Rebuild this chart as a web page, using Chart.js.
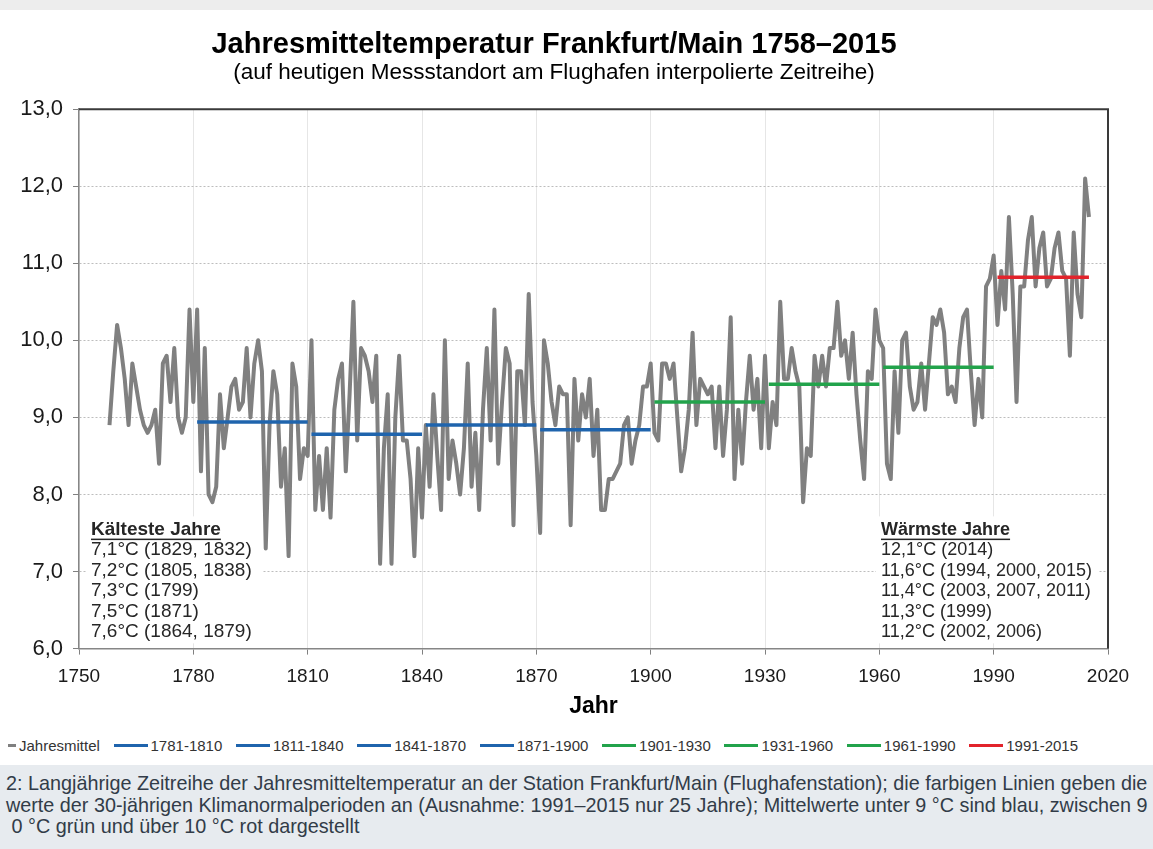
<!DOCTYPE html>
<html lang="de">
<head>
<meta charset="utf-8">
<title>Jahresmitteltemperatur Frankfurt/Main 1758–2015</title>
<script src="https://cdn.jsdelivr.net/npm/chart.js"></script>
<style>
  html, body { margin: 0; padding: 0; background: #fff; }
  body { width: 1153px; height: 849px; position: relative; overflow: hidden;
         font-family: 'Liberation Sans', Arial, sans-serif; }
  #topBand { position: absolute; left: 0; top: 0; width: 1153px; height: 10px; background: #ededed; }
  #chartBox { position: absolute; left: 0; top: 10px; width: 1153px; height: 720px; }
  #legend { position: absolute; left: 8px; top: 736px; width: 1070px; height: 18px;
            display: flex; justify-content: space-between; align-items: center;
            font-size: 15px; color: #333; white-space: nowrap; }
  #legend .item { display: flex; align-items: center; }
  #legend .mark { display: inline-block; height: 3px; margin-right: 3px; }
  #caption { position: absolute; left: 0; top: 765px; width: 1153px; height: 84px;
             box-sizing: border-box; padding: 8px 0 0 6px; background: #e7ebef;
             color: #323c48; font-size: 19.8px; line-height: 21.5px; white-space: nowrap; }
</style>
</head>
<body>
<div id="topBand"></div>
<div id="chartBox"><canvas id="tempChart"></canvas></div>
<div id="legend"></div>
<div id="caption">
  2: Langjährige Zeitreihe der Jahresmitteltemperatur an der Station Frankfurt/Main (Flughafenstation); die farbigen Linien geben die<br>
  werte der 30-jährigen Klimanormalperioden an (Ausnahme: 1991–2015 nur 25 Jahre); Mittelwerte unter 9 °C sind blau, zwischen 9<br>
  &nbsp;0 °C grün und über 10 °C rot dargestellt
</div>
<script>
const FONT = "'Liberation Sans', Arial, sans-serif";

// annual means, one value per year starting in 1758
const startYear = 1758;
const jahresmittel = [
  8.9, 9.6, 10.2, 9.9, 9.5, 8.9, 9.7, 9.4, 9.1, 8.9, 8.8, 8.9,            // 1758-1769
  9.1, 8.4, 9.7, 9.8, 9.2, 9.9, 9.0, 8.8, 9.0, 10.4,                      // 1770-1779
  9.2, 10.4, 8.3, 9.9, 8.0, 7.9, 8.1, 9.3, 8.6, 9.0,                      // 1780-1789
  9.4, 9.5, 9.1, 9.2, 9.9, 9.0, 9.7, 10.0, 9.6, 7.3,                      // 1790-1799
  8.9, 9.6, 9.3, 8.1, 8.6, 7.2, 9.7, 9.4, 8.2, 8.6,                       // 1800-1809
  8.5, 10.0, 7.8, 8.5, 7.8, 8.6, 7.7, 9.1, 9.5, 9.7,                      // 1810-1819
  8.3, 9.3, 10.5, 8.7, 9.9, 9.8, 9.6, 9.2, 9.8, 7.1,                      // 1820-1829
  8.6, 9.3, 7.1, 9.0, 9.8, 8.7, 8.7, 8.2, 7.2, 8.6,                       // 1830-1839
  7.7, 8.9, 8.1, 9.3, 8.5, 7.8, 10.0, 8.2, 8.7, 8.4,                      // 1840-1849
  8.0, 8.6, 9.7, 8.1, 8.8, 7.8, 9.1, 9.9, 8.7, 10.4,                      // 1850-1859
  8.4, 9.2, 9.9, 9.7, 7.6, 9.6, 9.6, 8.9, 10.6, 9.2,                      // 1860-1869
  8.5, 7.5, 10.0, 9.7, 9.2, 8.9, 9.4, 9.3, 9.3, 7.6,                      // 1870-1879
  9.5, 8.7, 9.3, 9.0, 9.5, 8.5, 9.1, 7.8, 7.8, 8.2,                       // 1880-1889
  8.2, 8.3, 8.4, 8.9, 9.0, 8.4, 8.7, 8.9, 9.4, 9.4,                       // 1890-1899
  9.7, 8.8, 8.7, 9.7, 9.7, 9.5, 9.7, 9.0, 8.3, 8.6,                       // 1900-1909
  9.1, 10.1, 8.9, 9.5, 9.4, 9.3, 9.4, 8.6, 9.4, 8.5,                      // 1910-1919
  9.1, 10.3, 8.2, 9.1, 8.4, 9.2, 9.8, 9.1, 9.5, 8.6,                      // 1920-1929
  9.8, 8.6, 9.2, 8.9, 10.5, 9.5, 9.5, 9.9, 9.6, 9.4,                      // 1930-1939
  7.9, 8.6, 8.5, 9.8, 9.4, 9.8, 9.4, 9.9, 9.9, 10.5,                      // 1940-1949
  9.8, 10.0, 9.5, 10.1, 9.3, 8.7, 8.2, 9.6, 9.5, 10.4,                    // 1950-1959
  10.0, 9.9, 8.4, 8.2, 9.6, 8.8, 10.0, 10.1, 9.4, 9.1,                    // 1960-1969
  9.2, 9.7, 9.1, 9.7, 10.3, 10.2, 10.4, 10.1, 9.3, 9.4,                   // 1970-1979
  9.2, 9.9, 10.3, 10.4, 9.6, 8.9, 9.5, 9.0, 10.7, 10.8,                   // 1980-1989
  11.1, 10.2, 10.9, 10.4, 11.6, 10.6, 9.2, 10.7, 10.7, 11.3,              // 1990-1999
  11.6, 10.7, 11.2, 11.4, 10.7, 10.8, 11.2, 11.4, 10.9, 10.8,             // 2000-2009
  9.8, 11.4, 10.6, 10.3, 12.1, 11.6                                       // 2010-2015
];

// 30-year normal periods
const periodLabels = ['1781-1810', '1811-1840', '1841-1870', '1871-1900',
                      '1901-1930', '1931-1960', '1961-1990', '1991-2015'];
const periodStart = [1781, 1811, 1841, 1871, 1901, 1931, 1961, 1991];
const periodEnd   = [1810, 1840, 1870, 1900, 1930, 1960, 1990, 2015];
const periodMean  = [8.94, 8.78, 8.90, 8.84, 9.20, 9.43, 9.65, 10.82];
const periodColor = ['#1f64ad', '#1f64ad', '#1f64ad', '#1f64ad',
                     '#22a34b', '#22a34b', '#22a34b', '#e2232b'];

const coldestYears = ['7,1°C (1829, 1832)', '7,2°C (1805, 1838)', '7,3°C (1799)',
                      '7,5°C (1871)', '7,6°C (1864, 1879)'];
const warmestYears = ['12,1°C (2014)', '11,6°C (1994, 2000, 2015)', '11,4°C (2003, 2007, 2011)',
                      '11,3°C (1999)', '11,2°C (2002, 2006)'];

const datasets = [{
  label: 'Jahresmittel',
  data: jahresmittel.map((v, i) => ({ x: startYear + i, y: v })),
  borderColor: '#808080',
  backgroundColor: '#808080',
  borderWidth: 4,
  borderJoinStyle: 'round',
  pointRadius: 0,
  order: 2
}];
periodLabels.forEach((label, i) => {
  datasets.push({
    label: label,
    data: [{ x: periodStart[i], y: periodMean[i] }, { x: periodEnd[i], y: periodMean[i] }],
    borderColor: periodColor[i],
    backgroundColor: periodColor[i],
    borderWidth: 3.5,
    pointRadius: 0,
    order: 1
  });
});

// text boxes in the lower corners of the plot
function drawNote(chart, heading, lines, offsetX, boxW, size) {
  const { ctx, chartArea } = chart;
  const lh = 20.5;
  const x = chartArea.left + offsetX;
  const hy = chartArea.bottom - 119;
  ctx.save();
  ctx.fillStyle = '#fff';
  ctx.fillRect(x - 5, hy - lh / 2 - 3, boxW, lh * 6 + 4);
  ctx.fillStyle = '#262626';
  ctx.textAlign = 'left';
  ctx.textBaseline = 'middle';
  ctx.font = 'bold ' + size + 'px ' + FONT;
  ctx.fillText(heading, x, hy);
  ctx.fillRect(x, hy + 9, ctx.measureText(heading).width, 1.5);
  ctx.font = size + 'px ' + FONT;
  lines.forEach((t, i) => ctx.fillText(t, x, hy + lh * (i + 1)));
  ctx.restore();
}

const plotDecor = {
  id: 'plotDecor',
  beforeDatasetsDraw(chart) {
    const { ctx, chartArea } = chart;
    ctx.save();
    ctx.strokeStyle = '#3a3a3a';
    ctx.lineWidth = 2;
    ctx.beginPath();
    ctx.moveTo(chartArea.left, chartArea.top);
    ctx.lineTo(chartArea.right, chartArea.top);
    ctx.lineTo(chartArea.right, chartArea.bottom);
    ctx.stroke();
    ctx.restore();
    drawNote(chart, 'Kälteste Jahre', coldestYears, 12, 176, 19);
    drawNote(chart, 'Wärmste Jahre', warmestYears, 802, 222, 18);
  }
};

// legend as html, built from the datasets
const htmlLegend = {
  id: 'htmlLegend',
  afterUpdate(chart) {
    const box = document.getElementById('legend');
    box.innerHTML = '';
    chart.data.datasets.forEach((ds, i) => {
      const item = document.createElement('span');
      item.className = 'item';
      const mark = document.createElement('span');
      mark.className = 'mark';
      mark.style.width = (i === 0 ? 8 : 34) + 'px';
      mark.style.background = ds.borderColor;
      item.appendChild(mark);
      item.appendChild(document.createTextNode(ds.label));
      box.appendChild(item);
    });
  }
};

new Chart(document.getElementById('tempChart'), {
  type: 'line',
  data: { datasets: datasets },
  plugins: [plotDecor, htmlLegend],
  options: {
    responsive: true,
    maintainAspectRatio: false,
    animation: false,
    layout: { padding: { left: 0, right: 45, top: 0, bottom: 15.5 } },
    plugins: {
      legend: { display: false },
      tooltip: { enabled: false },
      title: {
        display: true,
        text: 'Jahresmitteltemperatur Frankfurt/Main 1758–2015',
        color: '#000',
        font: { family: FONT, size: 29, weight: 'bold', lineHeight: 1.1 },
        padding: { top: 19, bottom: 0 }
      },
      subtitle: {
        display: true,
        text: '(auf heutigen Messstandort am Flughafen interpolierte Zeitreihe)',
        color: '#000',
        font: { family: FONT, size: 22.5, lineHeight: 1.1 },
        padding: { top: 0, bottom: 23.5 }
      }
    },
    scales: {
      x: {
        type: 'linear',
        min: 1750,
        max: 2020,
        ticks: {
          stepSize: 30,
          maxRotation: 0,
          padding: 11,
          color: '#1a1a1a',
          font: { family: FONT, size: 19 },
          callback: v => String(v)
        },
        grid: { color: '#e6e6e6', tickColor: '#808080', tickLength: 6 },
        border: { color: '#868686', width: 1.5 },
        title: {
          display: true,
          text: 'Jahr',
          color: '#000',
          font: { family: FONT, size: 23, weight: 'bold', lineHeight: 0.7 },
          padding: { top: -1, bottom: 0 }
        }
      },
      y: {
        min: 6,
        max: 13,
        afterFit: scale => { scale.width = 79; },
        ticks: {
          stepSize: 1,
          padding: 10,
          color: '#1a1a1a',
          font: { family: FONT, size: 22 },
          callback: v => v.toFixed(1).replace('.', ',')
        },
        grid: { color: '#bdbdbd', tickColor: '#808080', tickLength: 6 },
        border: { color: '#868686', width: 1.5, dash: [2, 2] }
      }
    }
  }
});
</script>
</body>
</html>
